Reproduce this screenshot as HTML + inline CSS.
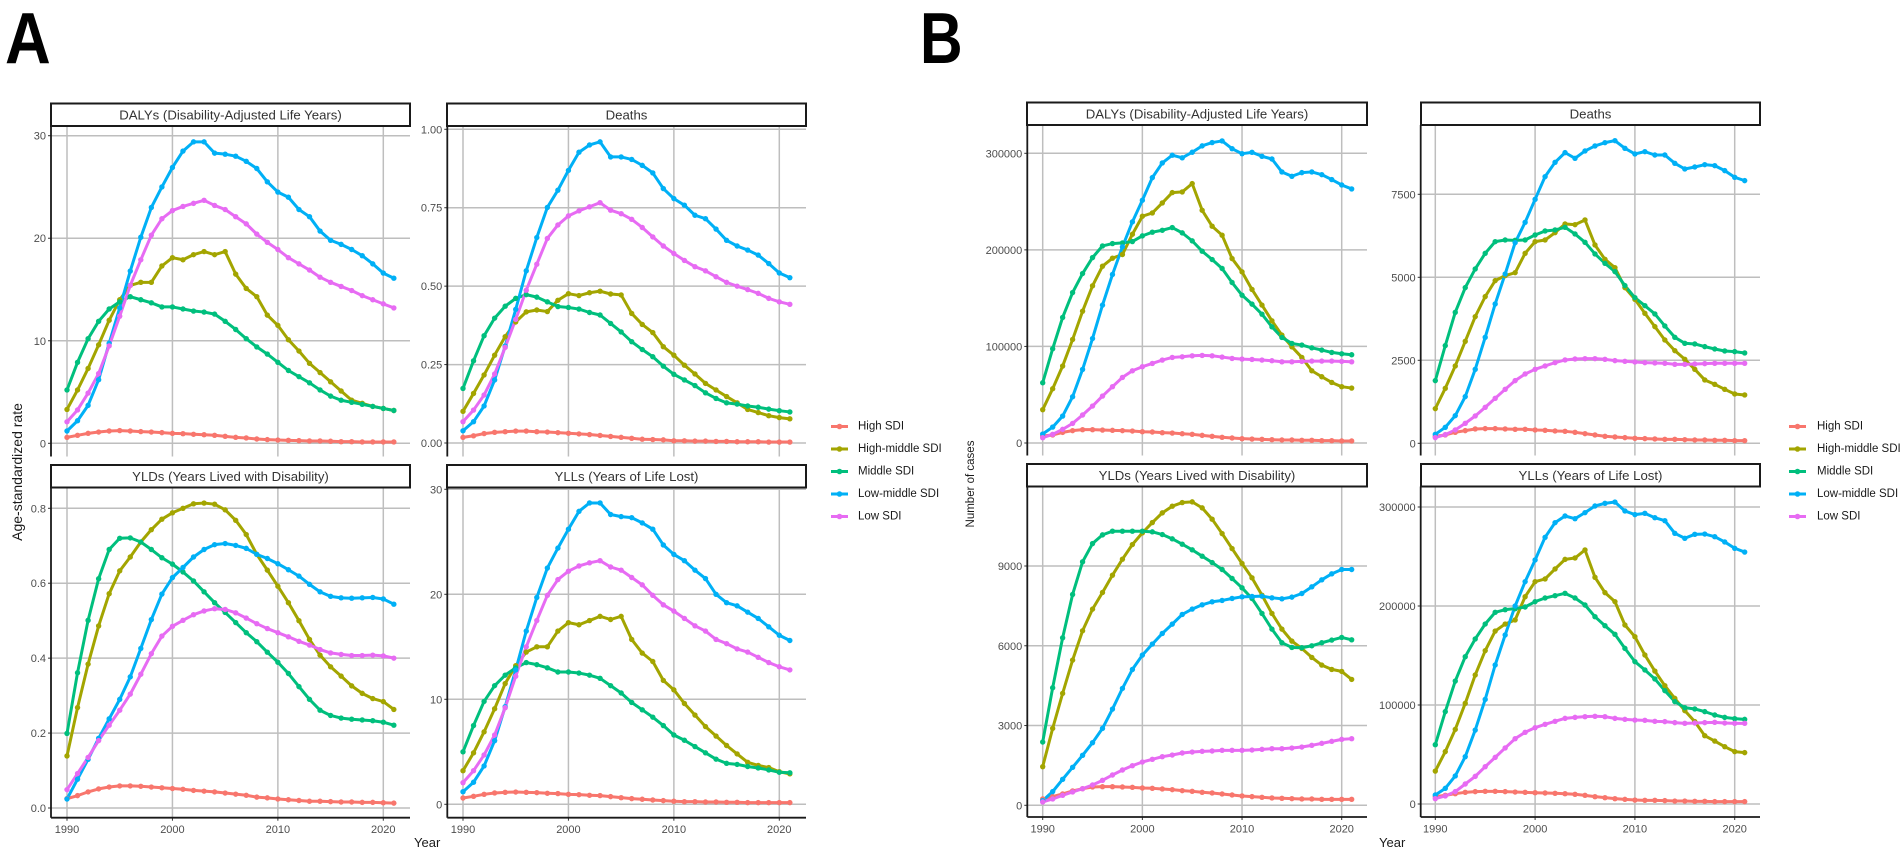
<!DOCTYPE html>
<html lang="en">
<head>
<meta charset="utf-8">
<title>SDI burden trends, panels A and B</title>
<style>
html,body{margin:0;padding:0;background:#fff;width:1902px;height:856px;overflow:hidden}
svg{display:block;filter:blur(0.35px)}
text{font-family:"Liberation Sans",sans-serif}
.strip-box{fill:#fff;stroke:#1a1a1a;stroke-width:2}
.strip-text{font-size:13.2px;fill:#333;text-anchor:middle;dominant-baseline:central}
.legend-text{font-size:11.5px;fill:#1a1a1a;dominant-baseline:central}
.axis-title{font-size:13px;fill:#1a1a1a}
.letter{font-size:72px;font-weight:bold;fill:#000}
</style>
</head>
<body>
<svg id="figure" xmlns="http://www.w3.org/2000/svg" width="1902" height="856" viewBox="0 0 1902 856">
  <rect x="0" y="0" width="1902" height="856" fill="#fff"/>
  <text class="letter" transform="translate(5,63) scale(0.88,1)">A</text>
  <text class="letter" transform="translate(920,63) scale(0.82,1)">B</text>

  <g id="plots"></g>

  <g>
    <rect class="strip-box" x="51" y="103.5" width="359" height="22.5"/>
    <text class="strip-text" x="230.5" y="115">DALYs (Disability-Adjusted Life Years)</text>
    <rect class="strip-box" x="447" y="103.5" width="359" height="22.5"/>
    <text class="strip-text" x="626.5" y="115">Deaths</text>
    <rect class="strip-box" x="51" y="465" width="359" height="22.5"/>
    <text class="strip-text" x="230.5" y="476.5">YLDs (Years Lived with Disability)</text>
    <rect class="strip-box" x="447" y="465" width="359" height="22.5"/>
    <text class="strip-text" x="626.5" y="476.5">YLLs (Years of Life Lost)</text>
    <rect class="strip-box" x="1027" y="102.5" width="340" height="22.5"/>
    <text class="strip-text" x="1197" y="114">DALYs (Disability-Adjusted Life Years)</text>
    <rect class="strip-box" x="1421" y="102.5" width="339" height="22.5"/>
    <text class="strip-text" x="1590.5" y="114">Deaths</text>
    <rect class="strip-box" x="1027" y="464" width="340" height="22.5"/>
    <text class="strip-text" x="1197" y="475.5">YLDs (Years Lived with Disability)</text>
    <rect class="strip-box" x="1421" y="464" width="339" height="22.5"/>
    <text class="strip-text" x="1590.5" y="475.5">YLLs (Years of Life Lost)</text>
  </g>

  <text class="axis-title" style="font-size:14px" text-anchor="middle" transform="translate(22,472) rotate(-90)">Age-standardized rate</text>
  <text class="axis-title" style="font-size:11.5px" text-anchor="middle" transform="translate(974,484) rotate(-90)">Number of cases</text>
  <text class="axis-title" x="414" y="847">Year</text>
  <text class="axis-title" x="1379" y="847">Year</text>

  <g>
    <g id="keys-a"></g>
    <text class="legend-text" x="858" y="426.5">High SDI</text>
    <text class="legend-text" x="858" y="449">High-middle SDI</text>
    <text class="legend-text" x="858" y="471.5">Middle SDI</text>
    <text class="legend-text" x="858" y="494">Low-middle SDI</text>
    <text class="legend-text" x="858" y="516.5">Low SDI</text>
  </g>
  <g>
    <g id="keys-b"></g>
    <text class="legend-text" x="1817" y="426.5">High SDI</text>
    <text class="legend-text" x="1817" y="449">High-middle SDI</text>
    <text class="legend-text" x="1817" y="471.5">Middle SDI</text>
    <text class="legend-text" x="1817" y="494">Low-middle SDI</text>
    <text class="legend-text" x="1817" y="516.5">Low SDI</text>
  </g>
</svg>

<script>
const years = [1990,1991,1992,1993,1994,1995,1996,1997,1998,1999,2000,2001,2002,2003,2004,2005,2006,2007,2008,2009,2010,2011,2012,2013,2014,2015,2016,2017,2018,2019,2020,2021];
const xTicks = [1990,2000,2010,2020];
const seriesNames = ['High SDI','High-middle SDI','Middle SDI','Low-middle SDI','Low SDI'];
const seriesColors = ['#F8766D','#A3A500','#00BF7D','#00B0F6','#E76BF3'];

/* Panel A: age-standardized rate */
const ticksRateDalys = ['0','10','20','30'];
const ticksRateDeaths = ['0.00','0.25','0.50','0.75','1.00'];
const ticksRateYlds = ['0.0','0.2','0.4','0.6','0.8'];
const ticksRateYlls = ['0','10','20','30'];

const rateDalysHigh = [0.58,0.78,0.97,1.1,1.2,1.24,1.2,1.14,1.1,1.04,0.97,0.94,0.88,0.84,0.78,0.68,0.58,0.52,0.42,0.36,0.32,0.29,0.26,0.23,0.23,0.2,0.16,0.16,0.13,0.13,0.13,0.13];
const rateDalysHighMiddle = [3.3,5.2,7.3,9.6,12.0,14.0,15.4,15.7,15.7,17.3,18.1,17.9,18.4,18.7,18.4,18.7,16.5,15.1,14.3,12.5,11.5,10.1,9.0,7.8,6.9,6.0,5.1,4.2,3.9,3.6,3.4,3.2];
const rateDalysMiddle = [5.2,7.9,10.2,11.9,13.1,13.8,14.3,14.0,13.7,13.3,13.3,13.1,12.9,12.8,12.6,11.9,11.1,10.2,9.4,8.7,7.9,7.1,6.5,5.9,5.2,4.6,4.2,4.0,3.8,3.6,3.4,3.2];
const rateDalysLowMiddle = [1.2,2.2,3.7,6.2,9.75,13.2,16.8,20.1,23.0,25.0,26.9,28.5,29.4,29.4,28.3,28.2,28.0,27.5,26.8,25.5,24.5,24.0,22.8,22.1,20.7,19.8,19.4,18.9,18.3,17.5,16.6,16.1];
const rateDalysLow = [2.1,3.25,4.9,6.8,9.5,12.4,15.4,17.9,20.3,21.9,22.7,23.1,23.4,23.7,23.2,22.8,22.1,21.4,20.4,19.6,18.9,18.1,17.5,16.9,16.2,15.7,15.3,14.9,14.4,14.0,13.6,13.2];

const rateDeathsHigh = [.018,.023,.030,.034,.036,.038,.038,.036,.035,.033,.031,.029,.027,.024,.021,.018,.015,.012,.011,.010,.007,.007,.006,.006,.005,.005,.004,.004,.004,.003,.003,.003];
const rateDeathsHighMiddle = [.101,.158,.217,.280,.339,.386,.418,.424,.419,.455,.476,.470,.479,.484,.475,.472,.413,.378,.352,.307,.280,.248,.220,.190,.169,.148,.128,.107,.097,.087,.081,.077];
const rateDeathsMiddle = [.174,.262,.342,.398,.436,.461,.473,.465,.450,.435,.432,.427,.416,.408,.381,.354,.323,.298,.275,.245,.219,.201,.183,.160,.142,.128,.124,.118,.114,.108,.103,.099];
const rateDeathsLowMiddle = [.039,.068,.118,.201,.309,.426,.549,.655,.751,.806,.869,.927,.950,.960,.912,.912,.904,.885,.861,.811,.779,.758,.726,.715,.682,.646,.628,.615,.599,.572,.542,.527];
const rateDeathsLow = [.068,.105,.153,.220,.305,.394,.487,.570,.652,.695,.724,.740,.753,.766,.742,.731,.713,.687,.657,.628,.604,.582,.562,.549,.530,.512,.500,.489,.477,.461,.450,.442];

const rateYldsHigh = [.025,.033,.043,.051,.056,.059,.059,.058,.056,.054,.052,.050,.047,.045,.043,.040,.037,.034,.029,.027,.024,.022,.020,.018,.018,.017,.016,.016,.015,.015,.014,.013];
const rateYldsHighMiddle = [.139,.268,.384,.486,.572,.633,.670,.710,.743,.771,.788,.800,.812,.814,.811,.796,.768,.730,.677,.635,.592,.548,.500,.450,.408,.377,.352,.326,.306,.292,.284,.263];
const rateYldsMiddle = [.199,.361,.501,.612,.690,.720,.721,.710,.690,.668,.651,.630,.606,.577,.548,.522,.495,.468,.444,.416,.389,.359,.324,.290,.261,.247,.240,.237,.235,.233,.229,.221];
const rateYldsLowMiddle = [.024,.077,.130,.186,.238,.290,.350,.426,.503,.571,.615,.642,.670,.690,.703,.706,.701,.693,.677,.666,.652,.636,.619,.597,.577,.565,.561,.560,.561,.562,.558,.544];
const rateYldsLow = [.049,.092,.135,.180,.221,.261,.304,.357,.412,.459,.485,.501,.516,.526,.532,.530,.521,.507,.492,.479,.468,.457,.445,.435,.423,.414,.410,.407,.407,.408,.406,.400];

const rateYllsHigh = [.6,.76,.95,1.08,1.14,1.17,1.14,1.11,1.05,1.02,.95,.92,.86,.83,.73,.63,.54,.48,.41,.35,.29,.25,.25,.22,.22,.19,.19,.16,.16,.16,.16,.16];
const rateYllsHighMiddle = [3.2,4.9,6.9,9.1,11.5,13.2,14.5,15.0,15.0,16.5,17.3,17.1,17.5,17.9,17.6,17.9,15.7,14.4,13.6,11.8,10.9,9.6,8.5,7.4,6.5,5.6,4.8,4.0,3.7,3.5,3.1,2.9];
const rateYllsMiddle = [5.0,7.5,9.8,11.3,12.3,13.0,13.5,13.3,13.0,12.6,12.6,12.5,12.3,12.0,11.3,10.6,9.7,9.0,8.3,7.5,6.6,6.1,5.5,4.9,4.3,3.9,3.8,3.6,3.46,3.27,3.05,3.0];
const rateYllsLowMiddle = [1.2,2.1,3.65,6.06,9.3,12.8,16.5,19.7,22.5,24.4,26.2,27.9,28.7,28.7,27.6,27.4,27.3,26.8,26.2,24.7,23.8,23.2,22.3,21.5,20.0,19.2,18.9,18.3,17.7,16.9,16.1,15.6];
const rateYllsLow = [2.06,3.2,4.7,6.6,9.2,12.2,15.0,17.5,19.9,21.4,22.2,22.7,23.0,23.2,22.6,22.3,21.6,20.9,19.9,19.0,18.4,17.7,17.0,16.5,15.7,15.3,14.8,14.5,14.0,13.5,13.1,12.8];

/* Panel B: number of cases */
const ticksCasesDalys = ['0','100000','200000','300000'];
const ticksCasesDeaths = ['0','2500','5000','7500'];
const ticksCasesYlds = ['0','3000','6000','9000'];
const ticksCasesYlls = ['0','100000','200000','300000'];

const casesDalysHigh = [7200,8300,11000,12800,13800,13800,13400,13100,12800,12400,11700,11400,10700,10300,9600,9000,7900,6900,5900,5200,4500,4100,3800,3400,3100,3100,2800,2800,2400,2400,2100,2100];
const casesDalysHighMiddle = [34500,56200,79700,107200,136500,162800,183100,191400,195200,216200,234800,238200,248600,259300,260000,268600,241000,224500,215200,191000,177200,159000,142800,126500,111700,99600,88600,74800,68600,62700,58300,56900];
const casesDalysMiddle = [62400,97600,130000,155800,175500,192000,204100,206500,207200,208600,214500,218300,220300,223100,217600,209300,198600,190000,180700,166200,153100,143800,133400,120300,109300,103100,101400,98600,96200,93800,92400,91400];
const casesDalysLowMiddle = [9300,16500,27900,47900,76200,108200,142800,174500,203100,229000,251400,274800,290000,298000,295300,301100,307700,311100,312800,304800,299600,301000,296900,294100,280700,276200,280000,280700,277900,272800,267200,263100];
const casesDalysLow = [5500,9000,14100,20300,29000,38300,48600,58300,67900,74800,79000,82400,85900,88600,89300,90300,90700,90300,89000,87600,86900,86500,85900,85200,84100,84100,84500,84800,84800,84800,84500,84100];

const casesDeathsHigh = [211,251,331,382,432,442,442,432,422,422,402,392,371,361,331,291,251,211,191,171,151,141,131,120,120,110,100,100,90,90,80,80];
const casesDeathsHighMiddle = [1044,1657,2330,3072,3815,4418,4900,5050,5140,5723,6074,6124,6345,6606,6586,6727,5974,5542,5291,4689,4337,3916,3514,3112,2791,2530,2229,1908,1777,1626,1486,1456];
const casesDeathsMiddle = [1888,2942,3946,4689,5251,5723,6074,6124,6114,6124,6275,6395,6426,6506,6305,6054,5703,5422,5171,4749,4387,4146,3896,3534,3193,3012,2992,2912,2841,2781,2761,2721];
const casesDeathsLowMiddle = [271,482,833,1406,2229,3193,4197,5100,6044,6657,7349,8032,8464,8755,8584,8805,8956,9056,9116,8885,8715,8785,8684,8684,8434,8263,8323,8393,8363,8213,8012,7912];
const casesDeathsLow = [171,261,402,602,823,1084,1355,1626,1888,2088,2229,2329,2430,2510,2540,2550,2550,2530,2490,2470,2450,2430,2420,2410,2379,2379,2389,2400,2410,2410,2410,2410];

const casesYldsHigh = [238,326,426,539,626,689,701,701,689,676,651,639,614,589,551,526,489,464,426,388,351,326,301,276,263,250,238,238,225,225,225,225];
const casesYldsHighMiddle = [1453,2894,4209,5461,6564,7378,8004,8655,9257,9808,10246,10634,10998,11249,11387,11412,11186,10760,10221,9657,9094,8555,7904,7215,6626,6175,5900,5562,5273,5111,5036,4735];
const casesYldsMiddle = [2380,4422,6300,7929,9157,9845,10171,10309,10309,10309,10309,10284,10184,10021,9820,9608,9369,9131,8868,8530,8179,7778,7215,6626,6113,5937,5925,6000,6113,6213,6313,6225];
const casesYldsLowMiddle = [175,514,977,1428,1879,2355,2893,3620,4397,5111,5649,6063,6463,6814,7178,7379,7541,7654,7704,7779,7841,7854,7866,7804,7766,7829,7966,8217,8480,8705,8868,8868];
const casesYldsLow = [125,238,376,501,626,764,939,1140,1328,1490,1628,1729,1829,1891,1967,2004,2029,2042,2067,2067,2067,2079,2104,2129,2129,2154,2192,2255,2330,2405,2480,2505];

const casesYllsHigh = [7400,8750,10400,11800,12500,12800,12800,12500,12100,11800,11400,11100,10800,10400,9800,8750,7400,6400,5400,4700,4000,3700,3700,3400,3000,3000,2700,2700,2400,2400,2400,2400];
const casesYllsHighMiddle = [33300,52900,75400,101700,130300,154900,174700,181800,185900,209400,224600,227300,237400,247100,248500,256600,229000,213500,204400,180800,169000,150500,134300,119500,106700,94300,83200,69000,63600,57900,52900,51900];
const casesYllsMiddle = [59900,93300,124200,148800,166700,181800,193600,196300,197300,199000,204400,208100,210400,212800,208100,201000,189200,180100,171400,157200,143800,135400,126300,114500,103400,97300,96000,93300,89900,87500,86200,85500];
const casesYllsLowMiddle = [9100,15800,28300,47800,74700,105700,140400,170700,200000,224600,246500,269400,284200,290900,288200,294300,301000,303700,305000,296000,292300,293600,289200,286200,273400,268400,272400,272700,270000,264700,258300,254500];
const casesYllsLow = [5400,8100,12500,20200,27900,37700,47100,56600,66000,72400,77100,80500,83500,86500,87500,88200,88600,88200,86500,85500,84800,84500,83500,83200,82200,81500,81800,82200,82500,81800,81500,81500];

const NS = 'http://www.w3.org/2000/svg';
const plots = document.getElementById('plots');

function make(tag, attrs, parent) {
  const node = document.createElementNS(NS, tag);
  for (const k in attrs) node.setAttribute(k, attrs[k]);
  parent.appendChild(node);
  return node;
}

/* Layout of each facet: frame box and axis calibration (first/last labelled tick positions) */
const facets = [
  {id:'a-dalys', left:51, right:410, top:126, bottom:456.5, x1990:67, x2020:383.3, yLow:443.3, yHigh:135.7, showX:false, ticks:ticksRateDalys, series:[rateDalysHigh,rateDalysHighMiddle,rateDalysMiddle,rateDalysLowMiddle,rateDalysLow]},
  {id:'a-deaths', left:447.3, right:806, top:126, bottom:456.5, x1990:463, x2020:779.3, yLow:443, yHigh:129.3, showX:false, ticks:ticksRateDeaths, series:[rateDeathsHigh,rateDeathsHighMiddle,rateDeathsMiddle,rateDeathsLowMiddle,rateDeathsLow]},
  {id:'a-ylds', left:51, right:410, top:487.5, bottom:817.7, x1990:67, x2020:383.3, yLow:808, yHigh:508.3, showX:true, ticks:ticksRateYlds, series:[rateYldsHigh,rateYldsHighMiddle,rateYldsMiddle,rateYldsLowMiddle,rateYldsLow]},
  {id:'a-ylls', left:447.3, right:806, top:487.5, bottom:817.7, x1990:463, x2020:779.3, yLow:804.3, yHigh:489.3, showX:true, ticks:ticksRateYlls, series:[rateYllsHigh,rateYllsHighMiddle,rateYllsMiddle,rateYllsLowMiddle,rateYllsLow]},
  {id:'b-dalys', left:1027.3, right:1367, top:125, bottom:455.5, x1990:1042.7, x2020:1341.7, yLow:443, yHigh:153.3, showX:false, ticks:ticksCasesDalys, series:[casesDalysHigh,casesDalysHighMiddle,casesDalysMiddle,casesDalysLowMiddle,casesDalysLow]},
  {id:'b-deaths', left:1420.7, right:1760, top:125, bottom:455.5, x1990:1435.3, x2020:1734.7, yLow:443.3, yHigh:194.3, showX:false, ticks:ticksCasesDeaths, series:[casesDeathsHigh,casesDeathsHighMiddle,casesDeathsMiddle,casesDeathsLowMiddle,casesDeathsLow]},
  {id:'b-ylds', left:1027.3, right:1367, top:486.5, bottom:817, x1990:1042.7, x2020:1341.7, yLow:805.3, yHigh:566, showX:true, ticks:ticksCasesYlds, series:[casesYldsHigh,casesYldsHighMiddle,casesYldsMiddle,casesYldsLowMiddle,casesYldsLow]},
  {id:'b-ylls', left:1420.7, right:1760, top:486.5, bottom:817, x1990:1435.3, x2020:1734.7, yLow:804, yHigh:507, showX:true, ticks:ticksCasesYlls, series:[casesYllsHigh,casesYllsHighMiddle,casesYllsMiddle,casesYllsLowMiddle,casesYllsLow]}
];

function drawFacet(f) {
  const xScale = function (yr) { return f.x1990 + (yr - 1990) * (f.x2020 - f.x1990) / 30; };
  const tickVals = f.ticks.map(Number);
  const vMax = tickVals[tickVals.length - 1];
  const yScale = function (v) { return f.yLow + v * (f.yHigh - f.yLow) / vMax; };

  const g = make('g', {}, plots);
  
  

  xTicks.forEach(function (yr) {
    const px = xScale(yr);
    const gl = make('line', {x1:px, x2:px, y1:f.top, y2:f.bottom, stroke:'#bebebe', 'stroke-width':1.5}, g);
    
    
    if (f.showX) {
      const tk = make('line', {x1:px, x2:px, y1:f.bottom, y2:f.bottom + 3, stroke:'#333', 'stroke-width':1}, g);
      
      
      const lb = make('text', {x:px, y:f.bottom + 15.5, 'text-anchor':'middle', 'font-size':11, fill:'#4d4d4d'}, g);
      
      
      lb.textContent = yr;
    }
  });

  f.ticks.forEach(function (label) {
    const py = yScale(Number(label));
    const gl = make('line', {x1:f.left, x2:f.right, y1:py, y2:py, stroke:'#bebebe', 'stroke-width':1.5}, g);
    
    
    const tk = make('line', {x1:f.left - 3, x2:f.left, y1:py, y2:py, stroke:'#333', 'stroke-width':1}, g);
    
    
    const lb = make('text', {x:f.left - 5, y:py + 4, 'text-anchor':'end', 'font-size':11, fill:'#4d4d4d'}, g);
    
    
    lb.textContent = label;
  });

  const yAxis = make('line', {x1:f.left, x2:f.left, y1:f.top, y2:f.bottom, stroke:'#1a1a1a', 'stroke-width':1.8}, g);
  
  
  if (f.showX) {
    const xAxis = make('line', {x1:f.left, x2:f.right, y1:f.bottom, y2:f.bottom, stroke:'#1a1a1a', 'stroke-width':1.8}, g);
    
    
  }

  f.series.forEach(function (values, i) {
    const pts = values.map(function (v, j) { return xScale(years[j]).toFixed(2) + ',' + yScale(v).toFixed(2); }).join(' ');
    const line = make('polyline', {points:pts, fill:'none', stroke:seriesColors[i], 'stroke-width':3, 'stroke-linejoin':'round'}, g);
    
    
  });
  f.series.forEach(function (values, i) {
    values.forEach(function (v, j) {
      const dot = make('circle', {cx:xScale(years[j]), cy:yScale(v), r:2.7, fill:seriesColors[i]}, g);
      
      
    });
  });
}

facets.forEach(drawFacet);

function drawKeys(holderId, x1, x2) {
  const holder = document.getElementById(holderId);
  seriesNames.forEach(function (name, i) {
    const cy = 426.5 + i * 22.5;
    const ln = make('line', {x1:x1, x2:x2, y1:cy, y2:cy, stroke:seriesColors[i], 'stroke-width':3}, holder);
    
    
    const dt = make('circle', {cx:(x1 + x2) / 2, cy:cy, r:2.8, fill:seriesColors[i]}, holder);
    
    
  });
}
drawKeys('keys-a', 831, 848);
drawKeys('keys-b', 1789, 1806);
</script>
</body>
</html>
